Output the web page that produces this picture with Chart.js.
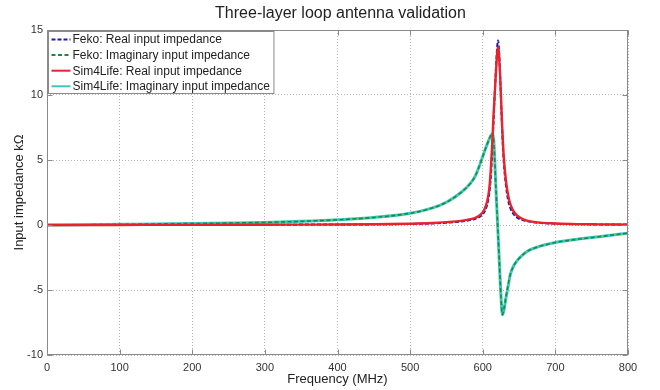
<!DOCTYPE html>
<html><head><meta charset="utf-8">
<script src="https://cdn.jsdelivr.net/npm/chart.js@4.4.0/dist/chart.umd.min.js"></script>
<style>html,body{margin:0;padding:0;background:#fff;}canvas{display:block}</style>
</head><body>
<canvas id="c" width="660" height="390"></canvas>
<script>
const chartTitle = 'Three-layer loop antenna validation';
const xTitle = 'Frequency (MHz)';
const yTitle = 'Input impedance kΩ';
const seriesNames = ['Feko: Real input impedance','Feko: Imaginary input impedance','Sim4Life: Real input impedance','Sim4Life: Imaginary input impedance'];

const fekoFreq = [0,50,100,150,200,250,300,350,400,450,500,530,550,570,583,590,597,602,606,609,611,613,615,618,620,621,622,624,625,627,629,632,635,638,643,648,655,662,675,700,730,760,800];
const fekoReal = [0,0,0.005,0.008,0.01,0.015,0.02,0.03,0.04,0.05,0.08,0.12,0.18,0.27,0.38,0.48,0.68,0.98,1.55,2.45,3.6,5.6,8.2,11.8,13.8,14.2,13.8,11.4,9.8,6.9,4.8,3.0,1.9,1.3,0.8,0.55,0.38,0.28,0.18,0.1,0.06,0.04,0.03];
const fekoImag = [0,0.02,0.05,0.08,0.11,0.15,0.2,0.28,0.4,0.58,0.9,1.3,1.75,2.5,3.2,3.8,4.8,5.6,6.2,6.65,6.9,7.1,6.6,3.0,0.6,-0.6,-1.8,-4.3,-5.4,-6.9,-6.5,-5.5,-4.6,-3.8,-3.1,-2.7,-2.3,-2.0,-1.7,-1.35,-1.1,-0.9,-0.63];

const s4lFreq = [0,50,100,150,200,250,300,350,400,450,500,530,550,570,583,590,597,602,606,609,611,613,615,618,620,621,622,624,625,627,629,632,635,638,643,648,655,662,675,700,730,760,800];
const s4lReal = [0,0,0.005,0.008,0.01,0.015,0.02,0.03,0.04,0.06,0.1,0.15,0.22,0.32,0.45,0.55,0.8,1.15,1.8,2.8,4.2,6.2,8.6,11.6,13.3,13.7,13.4,11.4,10.0,7.3,5.2,3.4,2.3,1.6,1.0,0.7,0.45,0.32,0.2,0.12,0.07,0.05,0.03];
const s4lImag = [0,0.02,0.05,0.08,0.11,0.15,0.2,0.28,0.4,0.58,0.9,1.3,1.75,2.5,3.2,3.8,4.8,5.6,6.2,6.6,6.85,7.0,6.6,3.0,0.6,-0.6,-1.8,-4.3,-5.4,-6.9,-6.6,-5.6,-4.7,-3.8,-3.1,-2.7,-2.3,-2.0,-1.7,-1.35,-1.1,-0.9,-0.63];

const xTicks = [0,100,200,300,400,500,600,700,800];
const yTicks = [-10,-5,0,5,10,15];

const colors = ['#1a1ab8','#1f8a35','#e8232b','#3cc8c0'];
const dashes = [[4,2],[4,2.5],[],[]];
const widths = [2,1.6,2.4,3];

function pts(xs, ys){ return xs.map((x,i)=>({x:x, y:ys[i]})); }

const FONT = '"Liberation Sans", Arial, Helvetica, sans-serif';
Chart.defaults.font.family = FONT;

const datasets = [
  {label:seriesNames[0], data:pts(fekoFreq,fekoReal), borderColor:colors[0], borderDash:dashes[0], borderWidth:widths[0], order:3},
  {label:seriesNames[1], data:pts(fekoFreq,fekoImag), borderColor:colors[1], borderDash:dashes[1], borderWidth:widths[1], order:1},
  {label:seriesNames[2], data:pts(s4lFreq,s4lReal), borderColor:colors[2], borderDash:dashes[2], borderWidth:widths[2], order:0},
  {label:seriesNames[3], data:pts(s4lFreq,s4lImag), borderColor:colors[3], borderDash:dashes[3], borderWidth:widths[3], order:2}
].map(d=>Object.assign(d,{pointRadius:0, fill:false, cubicInterpolationMode:'monotone'}));

const deco = {
  id:'deco',
  afterDraw(chart){
    const ctx = chart.ctx, a = chart.chartArea, xs = chart.scales.x, ys = chart.scales.y;
    ctx.save();
    ctx.setLineDash([]);
    ctx.strokeStyle = '#8a8a8a'; ctx.lineWidth = 1;
    const L = Math.round(a.left)+0.5, R = Math.round(a.right)-0.5, T = Math.round(a.top)+0.5, B = Math.round(a.bottom)-0.5;
    ctx.strokeRect(L, T, R-L, B-T);
    ctx.beginPath();
    xTicks.forEach(v=>{ const p = Math.round(xs.getPixelForValue(v))+0.5; ctx.moveTo(p,B); ctx.lineTo(p,B-5); ctx.moveTo(p,T); ctx.lineTo(p,T+5); });
    yTicks.forEach(v=>{ const p = Math.round(ys.getPixelForValue(v))+0.5; ctx.moveTo(L,p); ctx.lineTo(L+5,p); ctx.moveTo(R,p); ctx.lineTo(R-5,p); });
    ctx.stroke();
    // legend
    ctx.font = '12px ' + FONT;
    let maxW = 0; seriesNames.forEach(n=>{ maxW = Math.max(maxW, ctx.measureText(n).width); });
    const bx = L+1, by = T+1, rowH = 15.6, textX = bx + 24;
    const bw = textX - bx + maxW + 4, bh = 62;
    ctx.fillStyle = '#fff'; ctx.fillRect(bx, by, bw, bh);
    ctx.strokeStyle = '#8a8a8a'; ctx.strokeRect(bx, by, bw, bh);
    ctx.textBaseline = 'middle'; ctx.textAlign = 'left';
    chart.data.datasets.forEach((d,i)=>{
      const cy = by + 8 + i*rowH;
      ctx.strokeStyle = d.borderColor; ctx.lineWidth = 2; ctx.setLineDash(d.borderDash || []);
      ctx.beginPath(); ctx.moveTo(bx+3, cy); ctx.lineTo(bx+22, cy); ctx.stroke();
      ctx.setLineDash([]);
      ctx.fillStyle = '#222'; ctx.fillText(d.label, textX, cy+0.5);
    });
    // titles
    ctx.fillStyle = '#222'; ctx.textAlign = 'center';
    ctx.font = '16px ' + FONT;
    ctx.fillText(chartTitle, (a.left+a.right)/2 + 3, 14);
    ctx.font = '13px ' + FONT;
    ctx.fillText(xTitle, (a.left+a.right)/2, 379);
    ctx.translate(19, (a.top+a.bottom)/2);
    ctx.rotate(-Math.PI/2);
    ctx.fillText(yTitle, 0, 0);
    ctx.restore();
  }
};

new Chart(document.getElementById('c'), {
  type:'line',
  data:{datasets},
  options:{
    responsive:false, animation:false, devicePixelRatio:1,
    layout:{padding:{top:30, right:32, left:0, bottom:0}},
    plugins:{legend:{display:false}, title:{display:false}, tooltip:{enabled:false}},
    scales:{
      x:{type:'linear', min:0, max:800,
        afterFit(s){ s.height = 35; },
        afterBuildTicks(s){ s.ticks = xTicks.map(v=>({value:v})); },
        ticks:{padding:6, color:'#333', font:{size:11}, maxRotation:0, autoSkip:false},
        grid:{color:'#b5b5b5', lineWidth:1, drawTicks:false},
        border:{display:false, dash:[1,2]}
      },
      y:{type:'linear', min:-10, max:15,
        afterFit(s){ s.width = 47; },
        afterBuildTicks(s){ s.ticks = yTicks.map(v=>({value:v})); },
        ticks:{padding:4, color:'#333', font:{size:11}, autoSkip:false},
        grid:{color:'#b5b5b5', lineWidth:1, drawTicks:false},
        border:{display:false, dash:[1,2]}
      }
    }
  },
  plugins:[deco]
});
</script>
</body></html>
